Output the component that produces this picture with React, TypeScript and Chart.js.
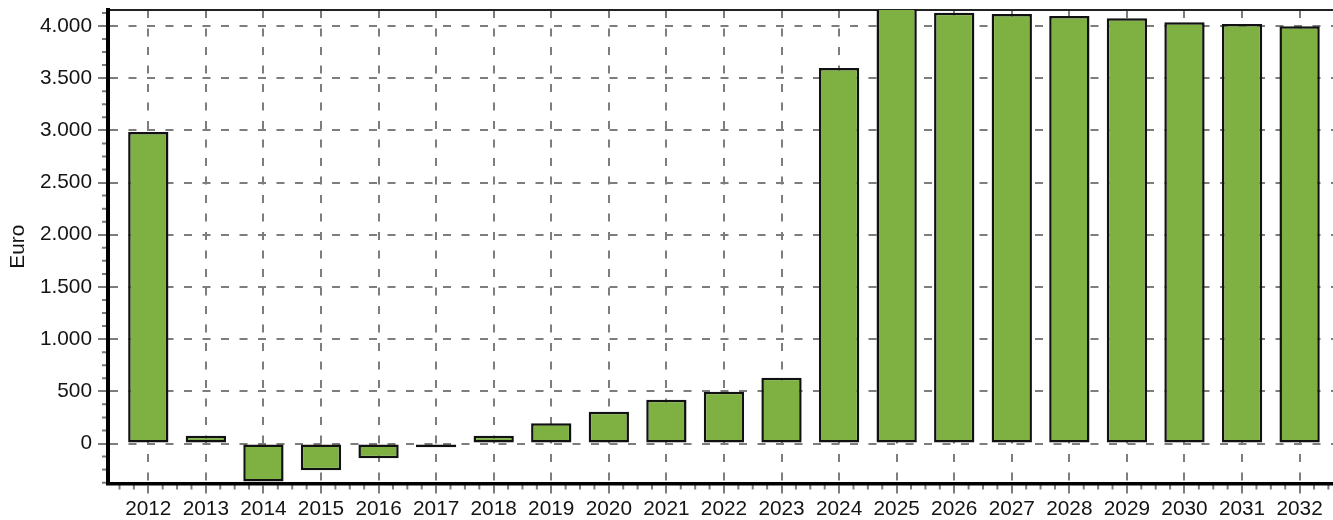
import { useEffect, useRef } from 'react';
import { Chart, registerables } from 'chart.js';

Chart.register(...registerables);

const years = [2012, 2013, 2014, 2015, 2016, 2017, 2018, 2019, 2020, 2021, 2022, 2023, 2024, 2025, 2026, 2027, 2028, 2029, 2030, 2031, 2032];
const values = [2985, 75, -365, -255, -142, -35, 75, 193, 305, 420, 496, 630, 3597, 4250, 4126, 4114, 4095, 4073, 4035, 4018, 3998];
const yTicks = [0, 500, 1000, 1500, 2000, 2500, 3000, 3500, 4000];

const X_MIN = 2011.3;
const X_MAX = 2032.58;
const Y_MIN = -383;
const Y_MAX = 4153;

const GRID = '#7d7d7d';
const TEXT = '#141414';
const BAR = '#7fb142';
const DASH = [8, 10.5];
const FONT = 'Liberation Sans, Arial, Helvetica, sans-serif';
const FS = 20.8;

function formatDE(v: number): string {
  const s = String(Math.abs(Math.round(v))).replace(/\B(?=(\d{3})+(?!\d))/g, '.');
  return v < 0 ? '-' + s : s;
}

const minorTicks = {
  id: 'minorTicks',
  beforeDraw(chart: any) {
    const { ctx, chartArea, scales } = chart;
    const x = scales.x;
    const y = scales.y;
    ctx.save();
    ctx.strokeStyle = GRID;
    ctx.lineWidth = 2;
    ctx.beginPath();
    for (let v = Math.ceil(x.min * 4) / 4; v <= x.max; v += 0.25) {
      if (Math.abs(v - Math.round(v)) < 1e-6) continue;
      const px = x.getPixelForValue(v);
      ctx.moveTo(px, chartArea.bottom);
      ctx.lineTo(px, chartArea.bottom + 6);
    }
    for (let v = Math.ceil(y.min / 125) * 125; v <= y.max; v += 125) {
      if (v % 500 === 0) continue;
      const py = y.getPixelForValue(v);
      ctx.moveTo(chartArea.left, py);
      ctx.lineTo(chartArea.left - 6, py);
    }
    ctx.stroke();
    ctx.restore();
  },
};

function noPad(s: any) {
  s.paddingTop = 0;
  s.paddingBottom = 0;
  s.paddingLeft = 0;
  s.paddingRight = 0;
}

export default function App() {
  const ref = useRef<HTMLCanvasElement>(null);

  useEffect(() => {
    document.body.style.margin = '0';
    Chart.defaults.font.family = FONT;
    Chart.defaults.font.size = FS;
    Chart.defaults.color = TEXT;

    const chart = new Chart(ref.current as HTMLCanvasElement, {
      type: 'bar',
      data: {
        datasets: [
          {
            data: years.map((yr, i) => ({ x: yr, y: values[i] })),
            backgroundColor: BAR,
            borderColor: '#111111',
            borderWidth: 2.5,
            borderSkipped: false,
            barPercentage: 0.7,
            categoryPercentage: 1,
            xAxisID: 'x',
            yAxisID: 'y',
          } as any,
        ],
      },
      options: {
        animation: false,
        responsive: true,
        maintainAspectRatio: false,
        layout: { padding: 0 },
        plugins: { legend: { display: false }, tooltip: { enabled: false } },
        scales: {
          x: {
            type: 'linear',
            position: 'bottom',
            min: X_MIN,
            max: X_MAX,
            offset: false,
            afterBuildTicks: (s: any) => {
              s.ticks = years.map((v) => ({ value: v }));
            },
            ticks: {
              callback: (v: any) => String(v),
              padding: 3,
              color: TEXT,
              font: { size: FS, family: FONT },
              maxRotation: 0,
              autoSkip: false,
            },
            grid: {
              offset: false,
              color: GRID,
              lineWidth: 2,
              tickLength: 10,
              tickColor: GRID,
              tickWidth: 2,
            },
            border: { color: '#000000', width: 3.5, dash: DASH },
            afterFit: (s: any) => {
              s.height = 36.5;
              noPad(s);
            },
          },
          xTop: {
            axis: 'x',
            type: 'linear',
            position: 'top',
            min: X_MIN,
            max: X_MAX,
            offset: false,
            ticks: { display: false },
            grid: { display: false, offset: false },
            border: { color: '#222222', width: 2 },
            afterFit: (s: any) => {
              s.height = 10;
              noPad(s);
            },
          },
          y: {
            type: 'linear',
            position: 'left',
            min: Y_MIN,
            max: Y_MAX,
            afterBuildTicks: (s: any) => {
              s.ticks = yTicks.map((v) => ({ value: v }));
            },
            ticks: {
              callback: (v: any) => formatDE(Number(v)),
              padding: 6,
              color: TEXT,
              font: { size: FS, family: FONT },
            },
            grid: {
              color: GRID,
              lineWidth: 2,
              tickLength: 10,
              tickColor: GRID,
              tickWidth: 2,
            },
            border: { color: '#000000', width: 4, dash: DASH },
            title: {
              display: true,
              text: 'Euro',
              color: TEXT,
              font: { size: FS, family: FONT },
              padding: { top: 6, bottom: 0 },
            },
            afterFit: (s: any) => {
              s.width = 108;
              noPad(s);
            },
          },
        } as any,
      },
      plugins: [minorTicks],
    });

    return () => chart.destroy();
  }, []);

  return (
    <div style={{ position: 'relative', width: 1333, height: 520 }}>
      <canvas ref={ref} />
    </div>
  );
}
